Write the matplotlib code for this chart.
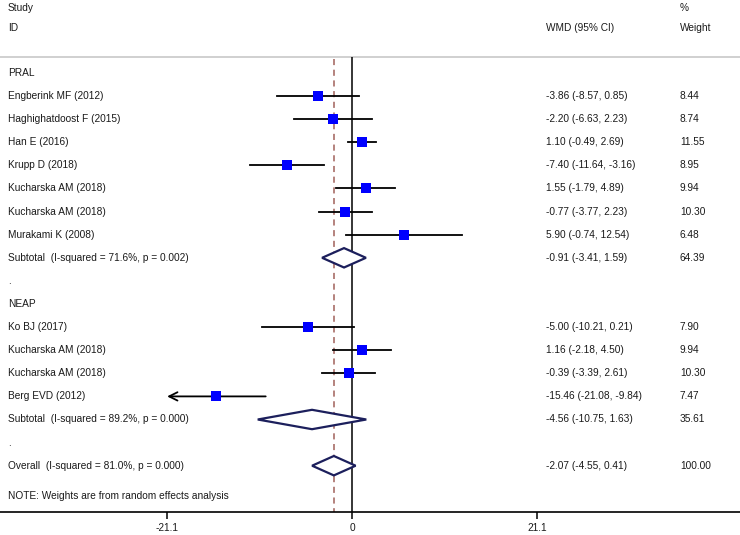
import matplotlib
matplotlib.use("Agg")
import matplotlib.pyplot as plt
import matplotlib.transforms as mtransforms
import numpy as np

plt.rcParams['font.family'] = ['Liberation Sans', 'DejaVu Sans']

# ---- data ----
pral_studies = ["Engberink MF (2012)", "Haghighatdoost F (2015)", "Han E (2016)",
                "Krupp D (2018)", "Kucharska AM (2018)", "Kucharska AM (2018)",
                "Murakami K (2008)"]
pral_est = [-3.86, -2.20, 1.10, -7.40, 1.55, -0.77, 5.90]
pral_lo = [-8.57, -6.63, -0.49, -11.64, -1.79, -3.77, -0.74]
pral_hi = [0.85, 2.23, 2.69, -3.16, 4.89, 2.23, 12.54]
pral_w = [8.44, 8.74, 11.55, 8.95, 9.94, 10.30, 6.48]
pral_sub = [-0.91, -3.41, 1.59, 64.39]
pral_het = "Subtotal  (I-squared = 71.6%, p = 0.002)"

neap_studies = ["Ko BJ (2017)", "Kucharska AM (2018)", "Kucharska AM (2018)",
                "Berg EVD (2012)"]
neap_est = [-5.00, 1.16, -0.39, -15.46]
neap_lo = [-10.21, -2.18, -3.39, -21.08]
neap_hi = [0.21, 4.50, 2.61, -9.84]
neap_w = [7.90, 9.94, 10.30, 7.47]
neap_sub = [-4.56, -10.75, 1.63, 35.61]
neap_het = "Subtotal  (I-squared = 89.2%, p = 0.000)"

overall = [-2.07, -4.55, 0.41, 100.00]
overall_het = "Overall  (I-squared = 81.0%, p = 0.000)"

xticks = [-21.1, 0, 21.1]
xticklabels = ["-21.1", "0", "21.1"]

# ---- figure ----
W, H, DPI = 740, 535, 100
fig = plt.figure(figsize=(W / DPI, H / DPI), dpi=DPI)
ax = fig.add_axes([0, 0, 1, 1])

px_per_unit = 8.77
x0_px = 352
ax.set_xlim(-x0_px / px_per_unit, (W - x0_px) / px_per_unit)
row0_px, row_h = 73.0, 23.1
ax.set_ylim((H - row0_px) / row_h, -row0_px / row_h)

txt_color = "#1a1a1a"
fs = 7.3
tr = mtransforms.blended_transform_factory(ax.transAxes, ax.transData)
x_lab, x_wmd, x_wt = 8 / W, 546 / W, 680 / W

def fmt(e, l, h):
    return f"{e:.2f} ({l:.2f}, {h:.2f})"

def put(x, y, s):
    ax.text(x, y, s, transform=tr, va="center", ha="left", fontsize=fs, color=txt_color)

def draw_study(y, name, e, l, h, w, arrow_left=False):
    put(x_lab, y, name)
    put(x_wmd, y, fmt(e, l, h))
    put(x_wt, y, f"{w:.2f}")
    if arrow_left:
        ax.annotate("", xy=(l, y), xytext=(h, y),
                    arrowprops=dict(arrowstyle="->", lw=1.3, color="black",
                                    mutation_scale=15, shrinkA=0, shrinkB=0), zorder=3)
    else:
        ax.plot([l, h], [y, y], color="black", lw=1.3, zorder=3)
    side_px = 9.8 * (w / 9.5) ** 0.15
    ax.plot([e], [y], marker="s", color="#0000ff", markersize=side_px * 0.72,
            markeredgewidth=0, zorder=4)

def draw_diamond(y, vals, label):
    e, l, h, w = vals
    hh = 0.42
    ax.fill([l, e, h, e, l], [y, y - hh, y, y + hh, y], facecolor="white",
            edgecolor="#1c1f5c", lw=1.6, zorder=4)
    put(x_lab, y, label)
    put(x_wmd, y, fmt(e, l, h))
    put(x_wt, y, f"{w:.2f}")

# headers
y_study = (8 - row0_px) / row_h
y_id = (28 - row0_px) / row_h
y_line = (57 - row0_px) / row_h
y_axis = (512 - row0_px) / row_h
y_note = (496 - row0_px) / row_h

put(x_lab, y_study, "Study")
put(x_lab, y_id, "ID")
put(x_wmd, y_id, "WMD (95% CI)")
put(x_wt, y_study, "%")
put(x_wt, y_id, "Weight")
ax.axhline(y_line, color="#c8c8c8", lw=1.2)

# reference lines
ax.vlines(0, y_line, y_axis, color="black", lw=1.1, zorder=2)
ax.vlines(overall[0], y_line + 0.1, y_axis, color="#a0605a", lw=1.1,
          linestyles=(0, (4, 3)), zorder=2)

# PRAL
row = 0
put(x_lab, row, "PRAL")
row += 1
for i in range(len(pral_studies)):
    draw_study(row, pral_studies[i], pral_est[i], pral_lo[i], pral_hi[i], pral_w[i])
    row += 1
draw_diamond(row, pral_sub, pral_het)
row += 1
put(x_lab, row, ".")
row += 1
put(x_lab, row, "NEAP")
row += 1
for i in range(len(neap_studies)):
    draw_study(row, neap_studies[i], neap_est[i], neap_lo[i], neap_hi[i], neap_w[i],
               arrow_left=(neap_lo[i] <= xticks[0] + 0.05))
    row += 1
draw_diamond(row, neap_sub, neap_het)
row += 1
put(x_lab, row, ".")
row += 1
draw_diamond(row, overall, overall_het)

put(x_lab, y_note, "NOTE: Weights are from random effects analysis")

# axis
for s in ["top", "left", "right"]:
    ax.spines[s].set_visible(False)
ax.spines["bottom"].set_position(("data", y_axis))
ax.spines["bottom"].set_linewidth(1.2)
ax.set_xticks(xticks)
ax.set_xticklabels(xticklabels, fontsize=fs, color=txt_color)
ax.tick_params(axis="x", direction="out", length=5, width=1.1, pad=3)
ax.set_yticks([])

fig.savefig("out.png", dpi=DPI)
